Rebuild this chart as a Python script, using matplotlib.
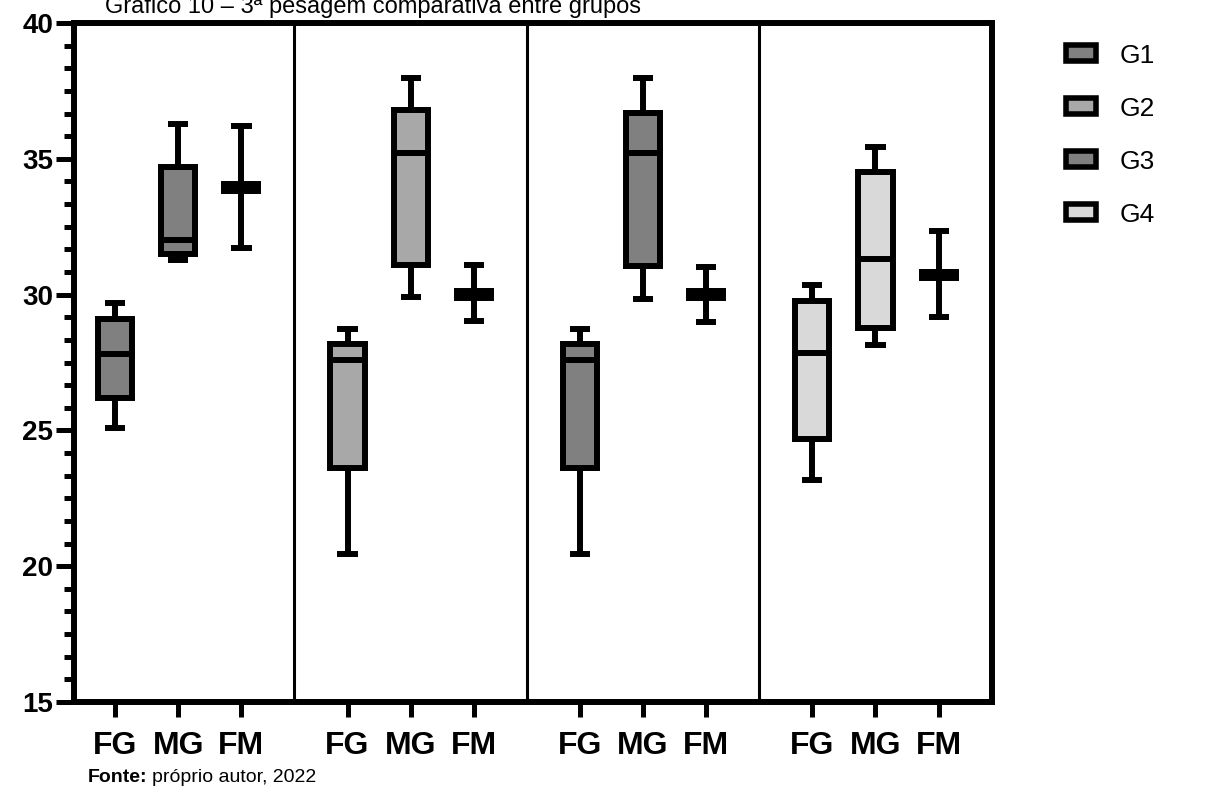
import matplotlib.pyplot as plt
from matplotlib.patches import Patch
from matplotlib.ticker import MultipleLocator, AutoMinorLocator

plt.rcParams['font.family'] = ['Liberation Sans', 'DejaVu Sans']

grupos = ["G1", "G2", "G3", "G4"]
medidas = ["FG", "MG", "FM"]
cores = ["#808080", "#a8a8a8", "#808080", "#d9d9d9"]

# cada caixa: [minimo, q1, mediana, q3, maximo] para FG, MG, FM
g1 = [[25.1, 26.2, 27.8, 29.1, 29.7],
      [31.27, 31.5, 32.0, 34.7, 36.3],
      [31.7, 33.82, 33.95, 34.08, 36.2]]
g2 = [[20.45, 23.6, 27.6, 28.2, 28.75],
      [29.9, 31.1, 35.2, 36.8, 37.97],
      [29.03, 29.88, 30.02, 30.15, 31.09]]
g3 = [[20.45, 23.6, 27.6, 28.2, 28.75],
      [29.85, 31.05, 35.22, 36.7, 37.97],
      [29.0, 29.87, 30.0, 30.13, 31.0]]
g4 = [[23.17, 24.68, 27.84, 29.76, 30.35],
      [28.14, 28.76, 31.3, 34.52, 35.45],
      [29.16, 30.6, 30.72, 30.85, 32.35]]
dados = [g1, g2, g3, g4]

passo = 3.68  # distancia entre os paineis

fig = plt.figure(figsize=(12.26, 7.95), dpi=100)
ax = fig.add_axes([0.0604, 0.117, 0.749, 0.854])

posicoes = []
for g, (grupo, cor) in enumerate(zip(dados, cores)):
    stats = []
    for m, v in enumerate(grupo):
        stats.append(dict(whislo=v[0], q1=v[1], med=v[2], q3=v[3], whishi=v[4], fliers=[]))
    pos = [g * passo + i for i in range(3)]
    posicoes += pos
    ax.bxp(stats, positions=pos, widths=0.54, capwidths=0.32, patch_artist=True,
           showfliers=False, manage_ticks=False,
           boxprops=dict(facecolor=cor, edgecolor="black", linewidth=4.3, joinstyle="miter"),
           medianprops=dict(color="black", linewidth=4.3, solid_capstyle="butt"),
           whiskerprops=dict(color="black", linewidth=4.3, solid_capstyle="butt"),
           capprops=dict(color="black", linewidth=4.3, solid_capstyle="butt"))
    if g < 3:
        ax.axvline(g * passo + 2.84, color="black", linewidth=2.2)

ax.set_xlim(-0.65, 3 * passo + 2.85)
ax.set_ylim(15, 40)
ax.set_xticks(posicoes)
ax.set_xticklabels(medidas * 4, fontweight="bold", fontsize=23)
ax.yaxis.set_major_locator(MultipleLocator(5))
ax.yaxis.set_minor_locator(AutoMinorLocator(6))
for lab in ax.get_yticklabels():
    lab.set_fontweight("bold")
ax.tick_params(axis="y", which="major", length=13, width=3.6, labelsize=20, pad=2)
ax.tick_params(axis="y", which="minor", length=7, width=3.6)
ax.tick_params(axis="x", length=11, width=3.6, pad=10)
for s in ax.spines.values():
    s.set_linewidth(4.3)

handles = [Patch(facecolor=c, edgecolor="black", linewidth=4) for c in cores]
fig.legend(handles, grupos, loc="upper left", bbox_to_anchor=(0.85, 0.975),
           frameon=False, fontsize=19, handlelength=1.15, handleheight=0.55,
           handletextpad=0.9, labelspacing=1.1)

fig.text(105 / 1226, 1 - 13 / 795, "Gráfico 10 – 3ª pesagem comparativa entre grupos",
         fontsize=17, va="baseline", ha="left")
t1 = fig.text(88 / 1226, 1 - 778 / 795, "Fonte:", fontweight="bold", fontsize=14, va="center")
fig.canvas.draw()
fim = t1.get_window_extent().x1
fig.text(fim / 1226 + 4 / 1226, 1 - 778 / 795, "próprio autor, 2022", fontsize=14, va="center")

fig.savefig("out.png", dpi=100)
